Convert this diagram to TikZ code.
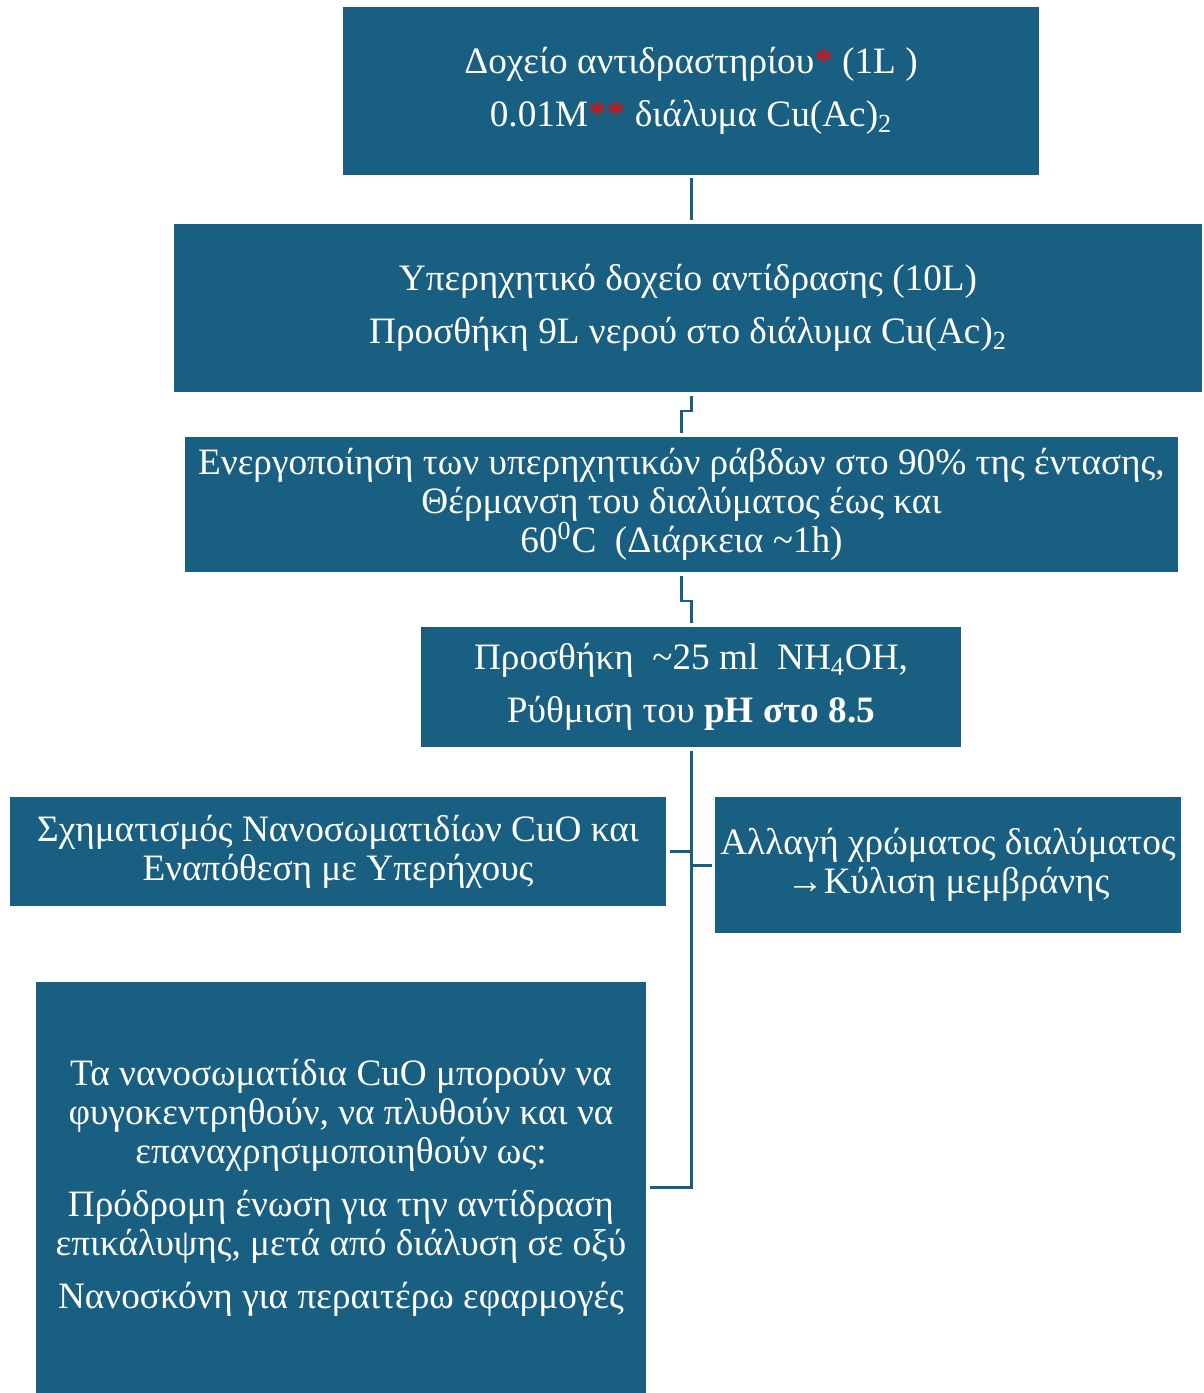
\documentclass[tikz,border=0pt]{standalone}
\usepackage{fontspec}
\setmainfont{Liberation Serif}
\usetikzlibrary{positioning,calc}
\definecolor{stepblue}{RGB}{24,95,129}
\tikzset{
    stepbox/.style={
        fill=stepblue, text=white,
        inner sep=0pt, outer sep=0pt,
        align=center,
        font=\fontsize{21.2}{22.2}\selectfont
    },
    link/.style={draw=stepblue, line width=1.7pt}
}
\newcommand{\redmark}[1]{\textcolor{red}{#1}}

\begin{document}
\begin{tikzpicture}

\useasboundingbox (0,0) rectangle (24.06,-27.86);

% ============ Preparation ============

\node[stepbox, minimum width=13.92cm, minimum height=3.36cm] (tank) at (13.82,-1.82)
    {Δοχείο αντιδραστηρίου\redmark{*} (1L )\\[0.28cm]
     0.01M\redmark{**} διάλυμα Cu(Ac)\textsubscript{2}};

\node[stepbox, minimum width=20.56cm, minimum height=3.36cm,
      below=0.98cm of tank, xshift=-0.06cm] (reactor)
    {Υπερηχητικό δοχείο αντίδρασης (10L)\\[0.28cm]
     Προσθήκη 9L νερού στο διάλυμα Cu(Ac)\textsubscript{2}};

\node[stepbox, minimum width=19.86cm, minimum height=2.7cm,
      below=0.9cm of reactor, xshift=-0.13cm] (heating)
    {Ενεργοποίηση των υπερηχητικών ράβδων στο 90\% της έντασης,\\
     Θέρμανση του διαλύματος έως και\\
     60\textsuperscript{0}C\ \ (Διάρκεια \textasciitilde1h)};

\node[stepbox, minimum width=10.8cm, minimum height=2.4cm,
      below=1.1cm of heating, xshift=0.19cm] (ammonia)
    {Προσθήκη\ \ \textasciitilde25 ml\ \ NH\textsubscript{4}OH,\\[0.28cm]
     Ρύθμιση του \textbf{pH στο 8.5}};

% ============ Results ============

\node[stepbox, minimum width=13.12cm, minimum height=2.18cm,
      below=1.0cm of ammonia, xshift=-7.06cm] (particles)
    {Σχηματισμός Νανοσωματιδίων CuO και\\
     Εναπόθεση με Υπερήχους};

\node[stepbox, minimum width=9.32cm, minimum height=2.72cm,
      below=1.0cm of ammonia, xshift=5.14cm] (colour)
    {Αλλαγή χρώματος διαλύματος\\
     →Κύλιση μεμβράνης};

\node[stepbox, minimum width=12.2cm, minimum height=8.22cm,
      below=1.52cm of particles, xshift=0.06cm] (reuse)
    {Τα νανοσωματίδια CuO μπορούν να\\
     φυγοκεντρηθούν, να πλυθούν και να\\
     επαναχρησιμοποιηθούν ως:\\[0.28cm]
     Πρόδρομη ένωση για την αντίδραση\\
     επικάλυψης, μετά από διάλυση σε οξύ\\[0.28cm]
     Νανοσκόνη για περαιτέρω εφαρμογές};

% ============ Connectors ============

\draw[link, shorten <=0.06cm, shorten >=0.08cm] (tank.south) -- (tank.south |- reactor.north);
\draw[link, shorten <=0.08cm, shorten >=0.08cm] ([xshift=0.06cm]reactor.south) -- ++(0,-0.38) -| (heating.north);
\draw[link, shorten <=0.08cm, shorten >=0.08cm] (heating.south) -- ++(0,-0.58) -| (ammonia.north);
\draw[link, shorten <=0.08cm, shorten >=0.08cm] (ammonia.south) |- (reuse.east);
\draw[link, shorten <=0.08cm] (particles.east) -- (particles.east -| ammonia.south);
\draw[link, shorten >=0.06cm] (ammonia.south |- colour.west) -- (colour.west);

\end{tikzpicture}
\end{document}
